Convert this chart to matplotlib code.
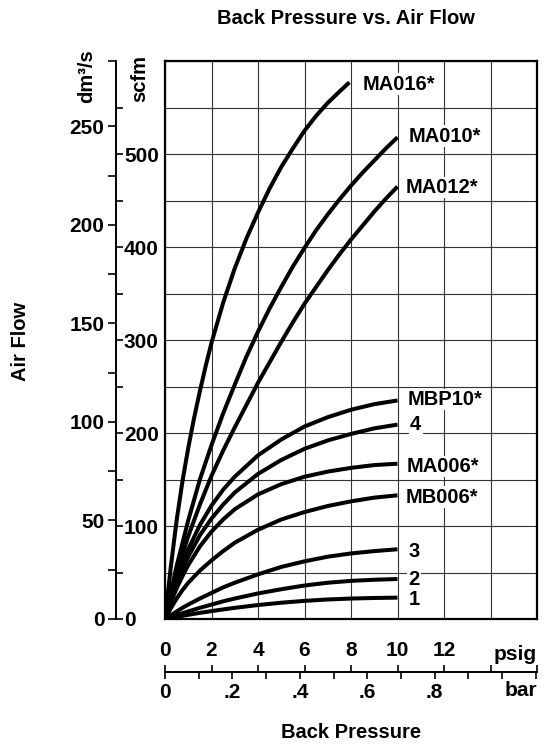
import numpy as np
import matplotlib
matplotlib.use("Agg")
import matplotlib.pyplot as plt

plt.rcParams['font.family'] = ['Liberation Sans', 'DejaVu Sans']
plt.rcParams['font.weight'] = 'bold'

# --- data (back pressure in psig, air flow in scfm) ---
MA016_P = [0, 0.25, 0.5, 0.75, 1, 1.25, 1.5, 1.75, 2, 2.5, 3, 3.5, 4, 4.5, 5, 5.5, 6, 6.5, 7, 7.5, 7.93]
MA016_Q = [0, 56, 106, 148, 184, 216, 245, 272, 297, 340, 377, 409, 437, 463, 486, 506, 525, 541, 555, 567, 577]

HALF_P = [0, 0.5, 1, 1.5, 2, 2.5, 3, 3.5, 4, 4.5, 5, 5.5, 6, 6.5, 7, 7.5, 8, 8.5, 9, 9.5, 10]
MA010_Q = [0, 57, 106, 150, 187, 221, 252, 282, 309, 334, 357, 379, 399, 418, 435, 451, 466, 480, 493, 506, 518]
MA012_Q = [0, 50, 89, 123, 154, 181, 206, 230, 254, 276, 298, 319, 339, 357, 375, 392, 408, 423, 438, 452, 465]

LOW_P = [0, 0.25, 0.5, 0.75, 1, 1.5, 2, 2.5, 3, 4, 5, 6, 7, 8, 9, 10]
MBP10_Q = [0, 23, 43, 60, 75, 101, 122, 139, 153, 176, 193, 207, 217, 225, 231, 235]
N4_Q = [0, 21, 39, 54, 67, 90, 108, 123, 136, 156, 171, 183, 192, 199, 205, 209]
MA006_Q = [0, 18, 33, 46, 58, 78, 94, 107, 118, 134, 145, 153, 158.5, 162.5, 165.5, 167]
MB006_Q = [0, 11.5, 22, 31, 39, 52, 63, 73, 82, 96, 107, 115, 121.5, 126.5, 130.5, 133]
N3_Q = [0, 4, 8, 12, 15.5, 22, 28, 34, 39, 48, 56, 62, 67, 70.5, 73, 75]
N2_Q = [0, 2.1, 4.2, 6.2, 8.2, 12, 15.5, 19, 22, 27.5, 32, 36, 39, 41, 42.2, 43]
N1_Q = [0, 1.1, 2.3, 3.4, 4.5, 6.6, 8.5, 10.3, 12, 15, 17.5, 19.5, 21, 22, 22.6, 23]

CURVES = [
    ("MA016*", MA016_P, MA016_Q),
    ("MA010*", HALF_P, MA010_Q),
    ("MA012*", HALF_P, MA012_Q),
    ("MBP10*", LOW_P, MBP10_Q),
    ("4", LOW_P, N4_Q),
    ("MA006*", LOW_P, MA006_Q),
    ("MB006*", LOW_P, MB006_Q),
    ("3", LOW_P, N3_Q),
    ("2", LOW_P, N2_Q),
    ("1", LOW_P, N1_Q),
]
# label anchors (psig, scfm)
LABEL_POS = {
    "MA016*": (8.52, 575), "MA010*": (10.46, 519), "MA012*": (10.35, 464),
    "MBP10*": (10.44, 236), "4": (10.54, 209), "MA006*": (10.39, 164),
    "MB006*": (10.35, 131), "3": (10.46, 73), "2": (10.46, 43), "1": (10.5, 21),
}

SCFM_TO_DM3S = 0.471947
PSI_TO_BAR = 1 / 14.5038

W, H = 545, 745
fig = plt.figure(figsize=(W / 100, H / 100), dpi=100)

def rect(x0, y0, x1, y1):
    return [x0 / W, 1 - y1 / H, (x1 - x0) / W, (y1 - y0) / H]

FS = 14.5

# --- main plot ---
ax = fig.add_axes(rect(165, 61, 537, 619))
ax.set_xlim(0, 16)
ax.set_ylim(0, 600)
ax.set_xticks(np.arange(0, 17, 2))
ax.set_yticks(np.arange(0, 601, 50))
ax.grid(True, color='#333333', linewidth=0.8)
ax.tick_params(length=0, labelbottom=False, labelleft=False)
for s in ax.spines.values():
    s.set_linewidth(1.6)
for name, p, q in CURVES:
    ax.plot(p, q, color='black', linewidth=2.9, solid_capstyle='butt',
            solid_joinstyle='round', zorder=3)
    lx, ly = LABEL_POS[name]
    ax.text(lx, ly, name, fontsize=FS, fontweight='bold', va='center', ha='left', zorder=4,
            bbox=dict(facecolor='white', edgecolor='none', pad=1.0))

# --- left scales: dm3/s (left side) and scfm (right side) on one line ---
ay = fig.add_axes(rect(115.5, 61, 115.6, 619))
ay.set_ylim(0, 600 * SCFM_TO_DM3S)
ay.set_yticks([0, 50, 100, 150, 200, 250])
ay.set_yticks([25, 75, 125, 175, 225, 600 * SCFM_TO_DM3S], minor=True)
ay.tick_params(axis='y', which='both', direction='out', length=6, width=1.2, labelsize=15, pad=2)
ay.set_xticks([])
for k in ['top', 'bottom', 'right']:
    ay.spines[k].set_visible(False)
ay.spines['left'].set_linewidth(1.4)

az = fig.add_axes(rect(115.5, 61, 115.6, 619))
az.patch.set_visible(False)
az.set_ylim(0, 600)
az.yaxis.tick_right()
az.set_yticks(np.arange(0, 501, 100))
az.set_yticks(np.arange(50, 551, 100), minor=True)
az.tick_params(axis='y', which='both', direction='out', length=5, width=1.2, labelsize=15, pad=1)
az.set_xticks([])
for s in az.spines.values():
    s.set_visible(False)
for t in ay.get_yticklabels() + az.get_yticklabels():
    t.set_fontweight('bold')

fig.text(87 / W, 1 - 76 / H, "dm³/s", rotation=90, ha='center', va='center', fontsize=FS, fontweight='bold')
fig.text(140 / W, 1 - 79 / H, "scfm", rotation=90, ha='center', va='center', fontsize=FS, fontweight='bold')

# --- bottom scales: psig above, bar below ---
ax_p = fig.add_axes(rect(165, 671.5, 537, 671.6))
ax_p.set_xlim(0, 16)
ax_p.xaxis.tick_top()
ax_p.set_xticks(np.arange(0, 17, 2))
ax_p.set_xticklabels(['0', '2', '4', '6', '8', '10', '12', '', ''])
ax_p.tick_params(axis='x', direction='out', length=5, width=1.2, labelsize=15, pad=3)
ax_p.set_yticks([])
for k in ['left', 'right', 'bottom']:
    ax_p.spines[k].set_visible(False)
ax_p.spines['top'].set_linewidth(1.4)

ax_b = fig.add_axes(rect(165, 671.5, 537, 671.6))
ax_b.patch.set_visible(False)
ax_b.set_xlim(0, 16 * PSI_TO_BAR)
bar_ticks = np.round(np.arange(0, 1.11, 0.1), 1)
ax_b.set_xticks(bar_ticks)
ax_b.set_xticklabels(['0', '', '.2', '', '.4', '', '.6', '', '.8', '', '', ''])
ax_b.tick_params(axis='x', direction='out', length=5, width=1.2, labelsize=15, pad=3)
ax_b.set_yticks([])
for s in ax_b.spines.values():
    s.set_visible(False)
for t in ax_p.get_xticklabels() + ax_b.get_xticklabels():
    t.set_fontweight('bold')

fig.text(537 / W, 1 - 655 / H, "psig", ha='right', va='center', fontsize=15, fontweight='bold')
fig.text(537 / W, 1 - 690 / H, "bar", ha='right', va='center', fontsize=15, fontweight='bold')

fig.text(346 / W, 1 - 19 / H, "Back Pressure vs. Air Flow", ha='center', va='center', fontsize=FS, fontweight='bold')
fig.text(351 / W, 1 - 733 / H, "Back Pressure", ha='center', va='center', fontsize=FS, fontweight='bold')
fig.text(21 / W, 1 - 341 / H, "Air Flow", rotation=90, ha='center', va='center', fontsize=FS, fontweight='bold')

fig.savefig("out.png", dpi=100)
